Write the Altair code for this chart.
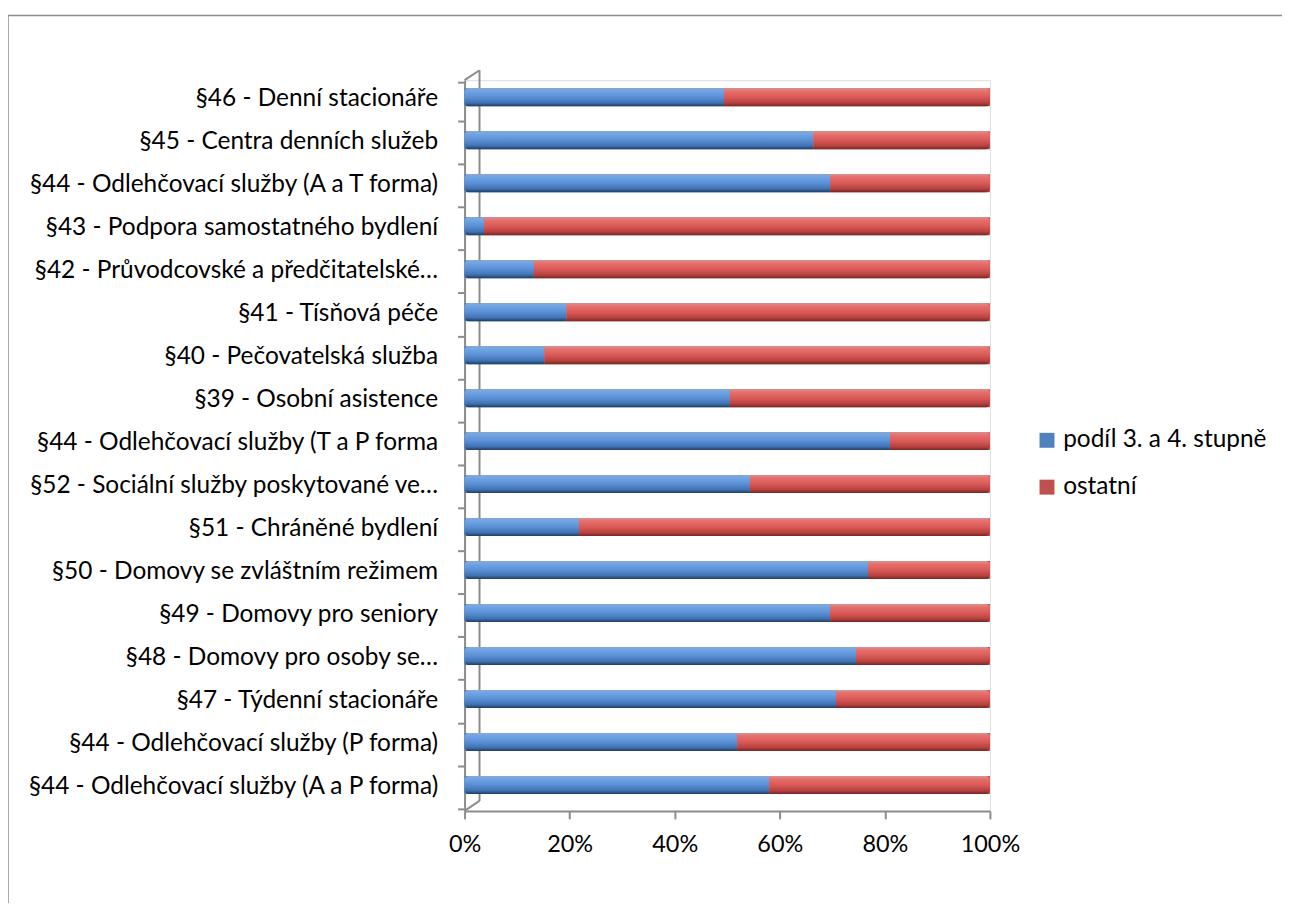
import altair as alt
import pandas as pd

categories = [
    "§46 - Denní stacionáře",
    "§45 - Centra denních služeb",
    "§44 - Odlehčovací služby (A a T forma)",
    "§43 - Podpora samostatného bydlení",
    "§42 - Průvodcovské a předčitatelské…",
    "§41 - Tísňová péče",
    "§40 - Pečovatelská služba",
    "§39 - Osobní asistence",
    "§44 - Odlehčovací služby (T a P forma",
    "§52 - Sociální služby poskytované ve…",
    "§51 - Chráněné bydlení",
    "§50 - Domovy se zvláštním režimem",
    "§49 - Domovy pro seniory",
    "§48 - Domovy pro osoby se…",
    "§47 - Týdenní stacionáře",
    "§44 - Odlehčovací služby (P forma)",
    "§44 - Odlehčovací služby (A a P forma)",
]
share_34 = [0.494, 0.664, 0.696, 0.037, 0.132, 0.194, 0.152, 0.505, 0.810,
            0.543, 0.218, 0.768, 0.696, 0.745, 0.707, 0.519, 0.580]
series_names = ["podíl 3. a 4. stupně", "ostatní"]
series_colors = ["#4f81bd", "#c0504d"]
x_ticks = [0, 0.2, 0.4, 0.6, 0.8, 1.0]

rows = []
for c, s in zip(categories, share_34):
    rows.append({"cat": c, "series": series_names[0], "start": 0.0, "end": s})
    rows.append({"cat": c, "series": series_names[1], "start": s, "end": 1.0})
df = pd.DataFrame(rows)

FONT = "Lato"
FS = 24.5
GRAY = "#8c8c8c"

blue_grad = alt.LinearGradient(
    gradient="linear", x1=0, y1=0, x2=0, y2=1,
    stops=[
        alt.GradientStop(offset=0, color="#8aa8d0"),
        alt.GradientStop(offset=0.15, color="#70a5e6"),
        alt.GradientStop(offset=0.5, color="#5a8fd5"),
        alt.GradientStop(offset=0.8, color="#4073b3"),
        alt.GradientStop(offset=1, color="#213c62"),
    ],
)
red_grad = alt.LinearGradient(
    gradient="linear", x1=0, y1=0, x2=0, y2=1,
    stops=[
        alt.GradientStop(offset=0, color="#d49593"),
        alt.GradientStop(offset=0.15, color="#e8706d"),
        alt.GradientStop(offset=0.5, color="#d95a57"),
        alt.GradientStop(offset=0.8, color="#b8423f"),
        alt.GradientStop(offset=1, color="#772725"),
    ],
)

base = alt.Chart(df).encode(
    y=alt.Y(
        "cat:N",
        sort=categories,
        title=None,
        axis=alt.Axis(
            labelFont=FONT, labelFontSize=FS, labelColor="#000000",
            labelPadding=20, labelLimit=700, labelOffset=-3,
            tickBand="extent", tickSize=7, tickColor=GRAY, tickWidth=2,
            domainColor=GRAY, domainWidth=2, grid=False,
        ),
    ),
    x=alt.X(
        "start:Q",
        scale=alt.Scale(domain=[0, 1], nice=False, zero=True),
        title=None,
        axis=alt.Axis(
            values=x_ticks, format=".0%", labelFont=FONT, labelFontSize=23.5,
            labelColor="#000000", labelPadding=14, labelFlush=False,
            tickSize=8, tickColor=GRAY, tickWidth=2, domainColor=GRAY,
            domainWidth=2, grid=False,
        ),
    ),
    x2="end:Q",
    yOffset=alt.value(15),
)

legend_layer = base.mark_bar(size=18).encode(
    color=alt.Color(
        "series:N",
        scale=alt.Scale(domain=series_names, range=series_colors),
        legend=alt.Legend(
            title=None, orient="none", legendX=572, legendY=349,
            symbolType="square", symbolSize=225, symbolStrokeWidth=0,
            labelFont=FONT, labelFontSize=FS, labelColor="#000000",
            labelLimit=400, rowPadding=22, labelOffset=4,
        ),
    )
)

blue_layer = base.transform_filter(
    alt.datum.series == series_names[0]
).mark_bar(size=18, color=blue_grad, cornerRadiusTopLeft=4, cornerRadiusBottomLeft=4)

red_layer = base.transform_filter(
    alt.datum.series == series_names[1]
).mark_bar(size=18, color=red_grad, cornerRadiusTopRight=4, cornerRadiusBottomRight=4)

one = pd.DataFrame({"k": [0]})
deco = alt.Chart(one)
back_wall = deco.mark_rule(color=GRAY, strokeWidth=2).encode(
    x=alt.value(15), y=alt.value(-10), y2=alt.value(723)
)
top_diag = deco.mark_rule(color=GRAY, strokeWidth=2).encode(
    x=alt.value(0), y=alt.value(0), x2=alt.value(15), y2=alt.value(-10)
)
bottom_diag = deco.mark_rule(color=GRAY, strokeWidth=2).encode(
    x=alt.value(0), y=alt.value(733), x2=alt.value(15), y2=alt.value(723)
)
frame = deco.mark_rect(fill="transparent", stroke=GRAY, strokeWidth=1.5).encode(
    x=alt.value(-458), y=alt.value(-65), x2=alt.value(3000), y2=alt.value(3000)
)

chart = alt.layer(
    frame, back_wall, top_diag, bottom_diag, legend_layer, blue_layer, red_layer
).properties(
    width=527, height=733,
    autosize=alt.AutoSizeParams(type="none"),
    padding={"left": 458, "top": 71, "right": 293, "bottom": 91},
).configure_view(stroke=None).configure(background="#ffffff")

chart.save("out.html", embed_options={"renderer": "svg", "actions": False})
